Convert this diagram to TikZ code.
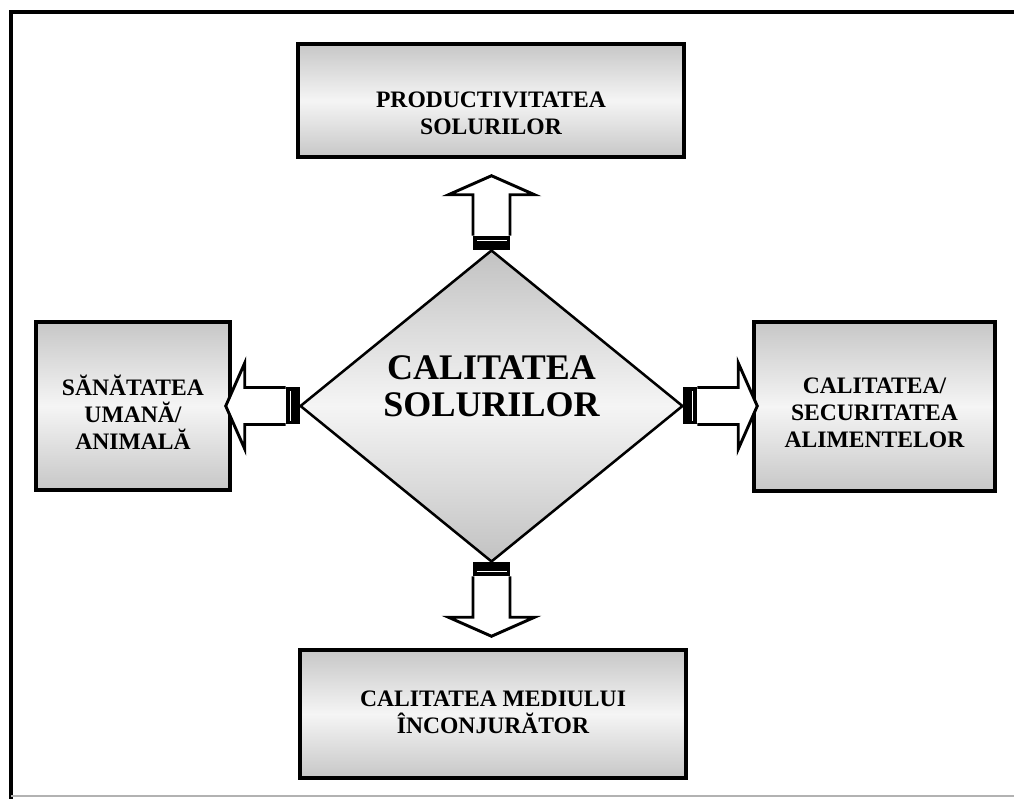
\documentclass[tikz,border=0pt]{standalone}
\usepackage{fontspec}
\setmainfont{Liberation Serif}
\usetikzlibrary{shapes.geometric}

\begin{document}
\begin{tikzpicture}[
  x=0.75pt, y=0.75pt,
  font=\bfseries\fontsize{17.7}{20.3}\selectfont,
  box/.style={draw, line width=2.6pt, inner sep=0pt,
              top color=black!22, bottom color=black!22, middle color=black!4},
  txt/.style={align=center, inner sep=0pt},
  core/.style={diamond, draw, line width=1.9pt, inner sep=0pt,
               minimum width=287.25pt, minimum height=234pt,
               top color=black!24, bottom color=black!24, middle color=black!4},
  fatarrow/.pic={
    \fill (-1,-18.5) rectangle (13,18.5);
    \draw[white, line width=0.9pt] (8,-15) -- (8,15);
    \draw[line width=2.2pt, fill=white]
      (13,-18.5) -- (54,-18.5) -- (54,-43) -- (73,0) -- (54,43) -- (54,18.5) -- (13,18.5);
  }
]
\useasboundingbox (0,0) rectangle (1014,799);
\draw[line width=2.6pt] (1030,787) -- (11,787) -- (11,-10);
\draw[black!30, line width=0.8pt] (11,3) -- (1014,3);

\node[box, minimum width=289.5pt, minimum height=84.75pt] (prod) at (491,698.5) {};
\node[txt] (prodtxt) at (491,686) {PRODUCTIVITATEA\\SOLURILOR};

\node[box, minimum width=145.5pt, minimum height=126pt] (sanat) at (133,393) {};
\node[txt] (sanattxt) at (133,387) {SĂNĂTATEA\\UMANĂ/\\ANIMALĂ};

\node[box, minimum width=180.75pt, minimum height=126.75pt] (alim) at (874.5,392.5) {};
\node[txt] (alimtxt) at (874.5,386) {CALITATEA/\\SECURITATEA\\ALIMENTELOR};

\node[box, minimum width=289.5pt, minimum height=96pt] (mediu) at (493,85) {};
\node[txt] (mediutxt) at (493,87) {CALITATEA MEDIULUI\\ÎNCONJURĂTOR};

\node[core] (cal) at (491.5,393) {};
\node[txt, font=\bfseries\fontsize{27}{28}\selectfont] (caltxt) at (491.5,413)
      {CALITATEA\\SOLURILOR};

\pic[rotate=90] at (cal.north) {fatarrow};
\pic[rotate=-90] at (cal.south) {fatarrow};
\pic[rotate=180] at (cal.west) {fatarrow};
\pic at (cal.east) {fatarrow};
\end{tikzpicture}
\end{document}
